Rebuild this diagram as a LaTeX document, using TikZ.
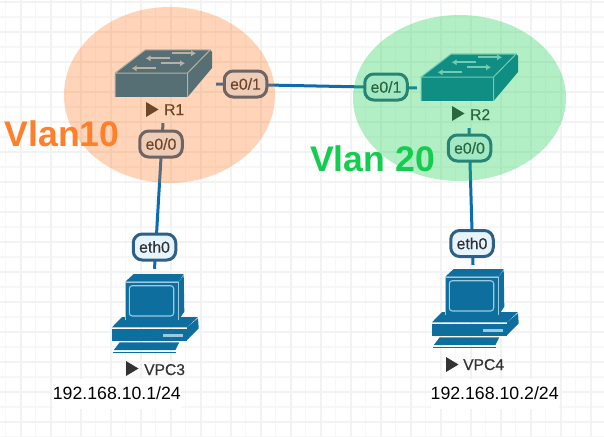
\documentclass[tikz,border=0pt]{standalone}
\usepackage{fontspec}
\setmainfont{Liberation Sans}
\newfontfamily\labelfont[FakeBold=0.35]{Liberation Sans}
\tikzset{
    gridthin/.style={draw=black!3, line width=1.4pt},
    gridthick/.style={draw=black!5, line width=2pt},
    link/.style={draw=linkblue, line width=3pt},
    portbox/.style={draw=portedge, fill=portfill, line width=3pt, rounded corners=9pt, inner sep=0pt,
        minimum width=42.5pt, minimum height=26pt, text=black!80, font=\labelfont\fontsize{15.8}{18}\selectfont},
    hostname/.style={anchor=base west, inner sep=0pt, text=black!80, font=\labelfont\fontsize{15.6}{18}\selectfont},
    ipaddr/.style={anchor=base west, fill=white, inner sep=0pt, text height=20pt, text depth=10pt,
        font=\fontsize{17.7}{20}\selectfont},
    vlantext/.style={anchor=base, inner sep=0pt, font=\bfseries\fontsize{35.6}{40}\selectfont},
    switchicon/.pic={
        \fill[icondark] (0,24) -- (30,1) -- (95,1) -- (72.5,24) -- cycle;
        \fill[icondark] (72.5,24) -- (95,1) -- (97,3) -- (97,19) -- (73,47.5) -- cycle;
        \fill[icondark] (0,24) rectangle (72.5,48);
        \draw[iconlight, line width=1pt] (0,48) -- (0,24) -- (72.5,24) -- (72.5,48)
            (0,24) -- (30,1) -- (95,1) -- (72.5,24);
        % pfeile oben
        \foreach \xA/\xB/\y in {56.7/81/4.3, 55/30.7/9.3, 45.7/70/14.3, 41/16.7/19.3} {
            \draw[iconlight, line width=2pt, -{Latex[length=5pt,width=6.5pt]}] (\xA,\y) -- (\xB,\y);
        }
    },
    vpcicon/.pic={
        % gehaeuse
        \fill[icondark] (0,53.3) -- (10,43) -- (86,43) -- (75,53.3) -- cycle;
        \fill[icondark] (75,53.3) -- (86,44.3) -- (86.7,54.3) -- (75,66) -- cycle;
        \fill[icondark] (0,54.5) rectangle (75,67);
        \fill[iconlight] (50.7,59.5) rectangle (71,62.5);
        % monitor
        \fill[icondark] (13.3,7.7) -- (21.7,0) -- (71.7,0) -- (66.7,7.7) -- cycle;
        \fill[icondark] (66.7,7.7) -- (71.7,1) -- (72.3,37.7) -- (66.7,46) -- cycle;
        \fill[icondark] (13.3,8.5) rectangle (66.7,46);
        \draw[iconlight, line width=0.6pt] (13.3,46) -- (13.3,7.9) -- (66.7,7.9) -- (66.7,46);
        \draw[iconlight, line width=1.1pt, rounded corners=3pt] (17.3,11.7) rectangle (61.7,42);
        % tastatur
        \fill[icondark] (1.7,76.2) -- (7.7,68.3) -- (67.3,68.3) -- (63.3,76.2) -- cycle;
        \draw[icondark, line width=0.9pt] (1,78) -- (64,78);
    }
}
\definecolor{linkblue}{HTML}{0B6CB0}
\definecolor{portedge}{HTML}{2E5F86}
\definecolor{portfill}{HTML}{E6F4FE}
\definecolor{icondark}{HTML}{0E6E9E}
\definecolor{iconlight}{HTML}{9CCBE0}
\definecolor{zoneorange}{HTML}{FF7314}
\definecolor{zonegreen}{HTML}{1AD14F}
\definecolor{vlanorange}{HTML}{FF7F2A}
\definecolor{vlangreen}{HTML}{14CC50}
\usetikzlibrary{arrows.meta}
\begin{document}
\begin{tikzpicture}[x=1pt,y=-1pt]
\useasboundingbox (0,0) rectangle (604,436);
\fill[white] (0,0) rectangle (604,436);

% raster
\foreach \i in {0,...,20} {
    \draw[gridthin] ({5.7+30*\i},0) -- ++(0,436);
    \draw[gridthin] (0,{17+30*\i}) -- ++(604,0);
}
\foreach \i in {0,...,20} {
    \draw[gridthick] ({20.7+30*\i},0) -- ++(0,436);
    \draw[gridthick] (0,{2+30*\i}) -- ++(604,0);
}

% geraete
\pic at (115,49) {switchicon};
\pic at (421,53) {switchicon};
\pic at (112,274) {vpcicon};
\pic at (432,269) {vpcicon};
\node[minimum width=106pt, minimum height=78pt, inner sep=0pt] (swA) at (163,84) {};
\node[minimum width=104pt, minimum height=80pt, inner sep=0pt] (swB) at (469,88) {};
\node[minimum width=90pt, minimum height=84pt, inner sep=0pt] (vpcA) at (154.5,311) {};
\node[minimum width=90pt, minimum height=84pt, inner sep=0pt] (vpcB) at (473,307) {};

% verbindungen
\draw[link] (swA.east) -- (swB.west);
\draw[link] (swA.south) -- (vpcA.north);
\draw[link] (swB.south) -- (vpcB.north);

% ports
\foreach \name/\x/\y/\text in {
    portAa/245.5/84/{e0/1},
    portAb/161/144/{e0/0},
    portBa/386/87/{e0/1},
    portBb/469.5/148/{e0/0},
    portC/154.5/247/{eth0},
    portD/472/243.5/{eth0}} {
    \node[portbox] (\name) at (\x,\y) {\text};
}

% namen
\foreach \x/\y/\xT/\yT/\name/\text in {
    146/102/164/115/nameA/R1,
    452/106/470/120/nameB/R2,
    126/361/144/375/nameC/VPC3,
    446/357/463/370/nameD/VPC4} {
    \fill[black!80] (\x,\y) -- (\x+12.5,\y+7.5) -- (\x,\y+15) -- cycle;
    \node[hostname] (\name) at (\xT,\yT) {\text};
}

% adressen
\node[ipaddr] (ipC) at (52.7,399.3) {192.168.10.1/24};
\node[ipaddr] (ipD) at (430.5,399.3) {192.168.10.2/24};

% vlan bereiche
\fill[zoneorange, opacity=0.3] (169.5,95) ellipse [x radius=105.5, y radius=88];
\fill[zonegreen, opacity=0.33] (459.5,98) ellipse [x radius=106.5, y radius=83];
\node[vlantext, text=vlanorange] (vlanA) at (62,146) {Vlan10};
\node[vlantext, text=vlangreen] (vlanB) at (372.5,171.7) {Vlan 20};
\end{tikzpicture}
\end{document}
